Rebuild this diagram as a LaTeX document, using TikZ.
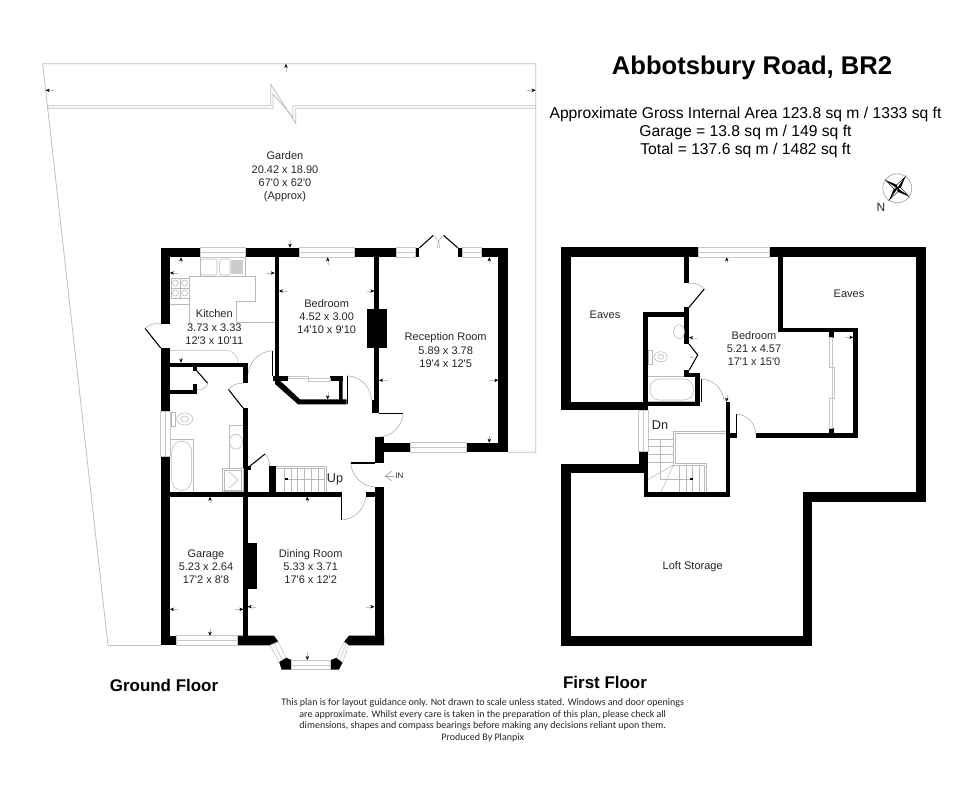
\documentclass[tikz,border=0pt]{standalone}
\usepackage{fontspec}
\usetikzlibrary{arrows.meta}
\newfontfamily\planfont{Liberation Sans}
\newfontfamily\notefont{Carlito}
\tikzset{
  wallfill/.style={fill=black},
  glass/.style={draw=gray!45,line width=.45pt,fill=white},
  outline/.style={draw=gray!50,line width=.6pt},
  fitting/.style={draw=gray!55,line width=.4pt},
  doorleaf/.style={draw=black,line width=.8pt},
  doorswing/.style={draw=gray!70,line width=.4pt},
  dimmark/.style={draw=gray!50,line width=.3pt,-{Stealth[black,length=3pt,width=2.6pt]}},
  roomlabel/.style={font=\planfont\fontsize{8.25}{10}\selectfont,align=center,text=black!85,inner sep=0pt},
  floorlabel/.style={font=\planfont\bfseries\fontsize{12.7}{15}\selectfont,inner sep=0pt}
}
\newcommand{\swingdoor}[4]{
  \draw[doorleaf] #1 -- #2;
  \draw[doorswing] #2 to[bend left=#4] #3;
}
\begin{document}
\begin{tikzpicture}[x=.75pt,y=-.75pt]
  \path[fill=white] (0,0) rectangle (980,797);

  % garden
  \draw[outline] (108,645.3) -- (42.7,63.7) -- (535.7,63.7) -- (535.7,452.3) -- (508,452.3);
  \draw[outline] (108,645.3) -- (160.7,645.3);
  \draw[outline] (47.3,105.7) -- (270.7,105.7) -- (270.7,84.3) -- (295.7,123.3) -- (295.7,108.3) -- (535.7,108.3);
  \draw[outline] (47.6,108.3) -- (273,108.3) -- (273,94) -- (293,117) -- (293,105.7) -- (535.7,105.7);

  % ground floor walls
  \foreach \xa/\ya/\xb/\yb in {160.7/247.7/200/257.3, 245/247.7/299.3/257.3, 354.3/247.7/396/257.3,
      415/247.7/419.3/257.3, 458/247.7/462.7/257.3, 481.3/247.7/508/257.3,
      498.3/247.7/508/452.3, 379/442.7/410.7/452.3, 466.7/442.7/508/452.3,
      160.7/247.7/170/324, 160.7/348/170/411.7, 160.7/456.7/170/645.3,
      374.3/257/379/413.3, 366.7/309/387.3/347.7, 371.7/400/379/413.3,
      375/437/384/463, 375/487/384/645.3, 365.7/491.7/375/496.7,
      170/491.7/341.7/496.7, 243.3/491.7/247.7/645.3, 247.3/543.3/257/589,
      160.7/635.7/176/645.3, 170/362.7/247.7/366.7, 243.3/362.7/247.7/383.3,
      243.3/408.3/247.7/491.7, 170/390/196.7/394.3, 193.3/384/197.3/394.3,
      193.3/366/197.3/371, 246/465.7/250.5/470, 269.3/465.7/276/491.7,
      275/257/279/380, 273.3/375.7/288.3/380.7, 330/375.7/342.7/380.7}
    \fill[wallfill] (\xa,\ya) rectangle (\xb,\yb);
  \fill[wallfill] (275,380) -- (279.3,380) -- (300,399.3) -- (339,399.3) -- (339,376) -- (342.7,376)
    -- (342.7,399.3) -- (346.7,399.3) -- (346.7,404.3) -- (298,404.3) -- (275,384) -- cycle;
  \fill[wallfill] (237,635.7) -- (274,635.7) -- (278.3,641.7) -- (270,645.3) -- (237,645.3) -- cycle;
  \fill[wallfill] (349,635.7) -- (384,635.7) -- (384,645.3) -- (348.3,645.3) -- (344,641.7) -- cycle;
  \fill[wallfill] (279,661.7) -- (285.7,657.7) -- (291.7,660) -- (291.7,669.7) -- (281.7,669.7) -- cycle;
  \fill[wallfill] (330.7,660) -- (336.7,657.7) -- (342.7,662.3) -- (339,669.7) -- (330.7,669.7) -- cycle;

  % first floor walls
  \foreach \xa/\ya/\xb/\yb in {561/247.3/698.3/257.3, 769.3/247.3/925.7/257.3, 915.7/247.3/925.7/501.7,
      561/247.3/570.7/410, 561/401.7/648.3/410, 643.3/312.3/648.3/410, 643.3/312.3/689/317.3,
      684.3/257/689/283.3, 684.3/307.3/689/344, 695/372.7/700/406, 684.3/370/689/376.7,
      684.3/372.7/700/376.7, 643.3/401.7/700/406, 725.7/401.7/730/496.7, 730/433.3/736.7/438.3,
      756/433.3/858.3/438.3, 853.3/327.7/858.3/438.3, 778.3/257/783.3/332.3, 778.3/327.7/858.3/332.3,
      829/332/834/337.7, 829/428.3/834/433.3, 561/464/648.3/473.3, 639.3/451/648.3/473.3,
      644/473/648.3/496.7, 644/492.3/730/496.7, 561/464/570.7/645.7, 561/636/812.3/645.7,
      803.3/491.7/812.3/645.7, 803.3/491.7/925.7/501.7}
    \fill[wallfill] (\xa,\ya) rectangle (\xb,\yb);

  % windows
  \foreach \xa/\ya/\xb/\yb in {200/247.7/245/257.3, 299.3/247.7/354.3/257.3, 396/247.7/415/257.3,
      462.7/247.7/481.3/257.3, 410.7/442.7/466.7/452.3, 176/635.7/237/645.3, 291.7/660/330.7/669.7,
      698.3/247.3/769.3/257.3} {
    \draw[glass] (\xa,\ya) rectangle (\xb,\yb);
    \draw[glass] (\xa,{(\ya+\yb)/2}) -- (\xb,{(\ya+\yb)/2});
  }
  \foreach \xa/\ya/\xb/\yb in {160.7/411.7/170/456.7, 638.3/410/648.3/451} {
    \draw[glass] (\xa,\ya) rectangle (\xb,\yb);
    \draw[glass] ({(\xa+\xb)/2},\ya) -- ({(\xa+\xb)/2},\yb);
  }
  \draw[glass] (278.3,641.7) -- (270,645.3) -- (279,661.7) -- (285.7,657.7) -- cycle;
  \draw[glass] (274.2,643.5) -- (282.3,659.7);
  \draw[glass] (344,641.7) -- (348.3,645.3) -- (342.7,662.3) -- (336.7,657.7) -- cycle;
  \draw[glass] (346.2,643.5) -- (339.7,660);
  \draw[glass] (288.3,376) -- (308,376) -- (308,378.5) -- (330,378.5) -- (330,381) -- (308,381) -- (308,378.5) -- (288.3,378.5) -- cycle;
  \draw[glass] (829.5,337.7) rectangle (832,367);
  \draw[glass] (832,367) rectangle (834.5,398.3);
  \draw[glass] (829.5,398.3) rectangle (832,428.3);

  % doors
  \swingdoor{(160.7,348)}{(145,328.3)}{(160.7,324)}{25}
  \swingdoor{(272.7,375.7)}{(272.7,350.7)}{(248.3,373.3)}{-40}
  \swingdoor{(347.3,404)}{(347.3,375.7)}{(371.7,400)}{40}
  \swingdoor{(197,371)}{(207.7,383.3)}{(197,390)}{40}
  \swingdoor{(243.3,408.3)}{(228.3,389.3)}{(243.3,383.3)}{25}
  \swingdoor{(250,466)}{(265,454)}{(269.3,466)}{25}
  \swingdoor{(379,413.3)}{(403.3,413.3)}{(379,437)}{40}
  \swingdoor{(375,463)}{(350.7,463)}{(375,487)}{-40}
  \swingdoor{(341.7,496.7)}{(341.7,520)}{(365.7,496.7)}{-40}
  \swingdoor{(419.3,248)}{(433.3,235.3)}{(439.5,248)}{25}
  \swingdoor{(458,248)}{(443.5,235.3)}{(437.5,248)}{-25}
  \swingdoor{(689,307.3)}{(704.3,289)}{(689,283.3)}{-25}
  \swingdoor{(701.7,401.7)}{(701.7,379)}{(724,400.7)}{40}
  \swingdoor{(736.7,434)}{(736.7,414)}{(756,434)}{40}
  \draw[doorleaf] (689,344) -- (697.7,355) -- (689.3,370);
  \draw[doorswing] (689.5,357) to[bend right=40] (694,357);

  % kitchen fittings
  \draw[fitting] (189.3,324) -- (189.3,276.7) -- (255.7,276.7) -- (255.7,301.7) -- (236,301.7) -- (236,322.3) -- (275,322.3);
  \draw[fitting] (170,304) -- (189.3,304);
  \draw[fitting] (170,350.7) -- (229,350.7) to[bend left=35] (238,362.7);
  \draw[fitting] (200,257.3) -- (200,276.7) (245,257.3) -- (245,276.7);
  \draw[fitting,rounded corners=1.5pt] (200.7,259) rectangle (217,275);
  \draw[fitting,rounded corners=1.5pt] (219.7,259) rectangle (230,275);
  \fill[gray!40] (231.3,260) rectangle (243,274);
  \draw[fitting] (171,278.5) rectangle (189,298);
  \draw[fitting] (171,288) -- (189,288) (180,278.5) -- (180,298);
  \foreach \cx/\cy in {175.5/283, 184.5/283, 175.5/293, 184.5/293}
    \draw[fitting] (\cx,\cy) circle (3);

  % ground floor bathroom
  \draw[fitting] (170,439.3) -- (193.7,439.3) -- (193.7,491.7);
  \draw[fitting,rounded corners=8pt] (171.7,441) rectangle (191.7,490.7);
  \draw[fitting] (171,412) rectangle (175,426.7);
  \draw[fitting] (184.7,419) ellipse (8 and 6);
  \draw[fitting] (184.7,419) ellipse (4 and 3);
  \draw[fitting] (229.3,468.3) -- (229.3,425) -- (243.3,425);
  \draw[fitting] (236,441.7) ellipse (6.5 and 7.5);
  \draw[fitting] (222.7,468.3) rectangle (243,491);
  \draw[fitting] (224,470) rectangle (241.5,490);
  \draw[fitting] (229,472) -- (238,480) -- (229,488);

  % ground floor stairs
  \draw[fitting] (276,466) -- (326,466) -- (326,491.7);
  \draw[fitting] (276,467.8) -- (324,467.8) -- (324,491.7);
  \foreach \xt in {284,291,297.7,304.3,311,318.3}
    \draw[fitting] (\xt,467.8) -- (\xt,491.7);
  \draw[fitting] (284,479.3) -- (324,479.3);
  \fill[black] (284.5,478.3) rectangle (288,480.3);

  % first floor fittings
  \draw[fitting] (648.3,376.7) -- (684.3,376.7) (648.3,401.7) -- (695,401.7);
  \draw[fitting,rounded corners=7pt] (650,379) rectangle (693.3,400);
  \draw[fitting] (648.3,350) rectangle (652,364);
  \draw[fitting] (660.7,356.7) ellipse (6.5 and 5);
  \draw[fitting] (660.7,356.7) ellipse (3 and 2.5);
  \draw[fitting] (679,331.7) ellipse (5.5 and 7);

  % first floor stairs
  \draw[fitting] (725.7,431.5) -- (673.3,431.5) -- (673.3,465) -- (704,465) -- (704,492.3);
  \draw[fitting] (725.7,433.5) -- (675.5,433.5) -- (675.5,463) -- (706,463) -- (706,492.3);
  \foreach \yt in {439.3,446.7,454.3,462}
    \draw[fitting] (648.3,\yt) -- (673.3,\yt);
  \draw[fitting] (660.7,439.3) -- (660.7,479.3) -- (693,479.3);
  \foreach \xt in {679,686,692.7,699}
    \draw[fitting] (\xt,465) -- (\xt,492.3);
  \draw[fitting] (673.3,465) -- (648.3,479.3) (673.3,465) -- (661,492.3);
  \fill[black] (689.5,478.3) rectangle (693,480.3);

  % dimension marks
  \foreach \xa/\ya/\xb/\yb in {286/71.7/286/63.9, 53.7/90.3/45.7/90.3, 527/90.3/535.5/90.3, 290/241/290/247.7,
      181/263/181/257.3, 178/273/170/273, 266/273/274.7/273, 181/356.7/181/362.7,
      327.7/265/327.7/257.3, 288/291/279/291, 367/291/374.3/291, 327.7/392/327.7/399.3,
      489.3/263/489.3/257.3, 388/380.3/379/380.3, 490/380.3/498.3/380.3, 489.3/436/489.3/442.7,
      210/503/210/496.7, 178/609.3/170/609.3, 235/609.3/243.3/609.3, 210/628/210/635.7,
      307.3/503/307.3/496.7, 256/606.7/247.7/606.7, 366/606.7/374.3/606.7, 307.3/652/307.3/660,
      726.7/263/726.7/257.3, 697/337.7/689/337.7, 845/337.3/853.3/337.3, 726.7/395/726.7/401.7}
    \draw[dimmark] (\xa,\ya) -- (\xb,\yb);
  \draw[draw=gray!70,line width=.5pt,-{Straight Barb[length=5pt,width=7pt]}] (394,476) -- (384.5,476);

  % compass
  \draw[draw=gray!70,line width=.5pt] (897.3,188.3) circle (14.5);
  \begin{scope}[shift={(897.3,188.3)}]
    \foreach \a in {35,125,215,305} {
      \fill[black] (0,0) -- (\a:14) -- (\a+45:3.6) -- cycle;
      \draw[line width=.3pt] (0,0) -- (\a:14) -- (\a-45:3.6) -- cycle;
    }
  \end{scope}

  % texts
  \node[font=\planfont\bfseries\fontsize{19.2}{24}\selectfont,inner sep=0pt] (Title) at (752,68) {Abbotsbury Road, BR2};
  \node[font=\planfont\fontsize{11.75}{13.5}\selectfont,align=center,inner sep=0pt] (Areas) at (745.5,132)
    {Approximate Gross Internal Area 123.8 sq m / 1333 sq ft\\Garage = 13.8 sq m / 149 sq ft\\Total = 137.6 sq m / 1482 sq ft};
  \node[roomlabel] (Garden) at (285,177) {Garden\\20.42 x 18.90\\67'0 x 62'0\\(Approx)};
  \node[roomlabel] (Kitchen) at (214.3,327.3) {Kitchen\\3.73 x 3.33\\12'3 x 10'11};
  \node[roomlabel] (BedroomG) at (326.7,316.7) {Bedroom\\4.52 x 3.00\\14'10 x 9'10};
  \node[roomlabel] (Reception) at (445.7,350.3) {Reception Room\\5.89 x 3.78\\19'4 x 12'5};
  \node[roomlabel] (Garage) at (206,566.7) {Garage\\5.23 x 2.64\\17'2 x 8'8};
  \node[roomlabel] (Dining) at (310.7,566.7) {Dining Room\\5.33 x 3.71\\17'6 x 12'2};
  \node[roomlabel] (BedroomF) at (754,348.5) {Bedroom\\5.21 x 4.57\\17'1 x 15'0};
  \node[roomlabel] (EavesA) at (605,315) {Eaves};
  \node[roomlabel] (EavesB) at (849,294) {Eaves};
  \node[roomlabel] (Loft) at (692.7,567) {Loft Storage};
  \node[roomlabel,font=\planfont\fontsize{9.5}{11}\selectfont] (Up) at (335,479) {Up};
  \node[roomlabel,font=\planfont\fontsize{9.5}{11}\selectfont] (Dn) at (660,425) {Dn};
  \node[roomlabel,font=\planfont\fontsize{6}{7}\selectfont] (In) at (399.5,476) {IN};
  \node[roomlabel,font=\planfont\fontsize{9}{11}\selectfont] (North) at (881,207) {N};
  \node[floorlabel] (Ground) at (164,685) {Ground Floor};
  \node[floorlabel] (First) at (605,682.3) {First Floor};
  \node[font=\notefont\fontsize{7.5}{8.55}\selectfont,align=center,inner sep=0pt,text=black!85] (Note) at (482.7,720.3)
    {This plan is for layout guidance only. Not drawn to scale unless stated. Windows and door openings\\are approximate. Whilst every care is taken in the preparation of this plan, please check all\\dimensions, shapes and compass bearings before making any decisions reliant upon them.\\Produced By Planpix};
\end{tikzpicture}
\end{document}
